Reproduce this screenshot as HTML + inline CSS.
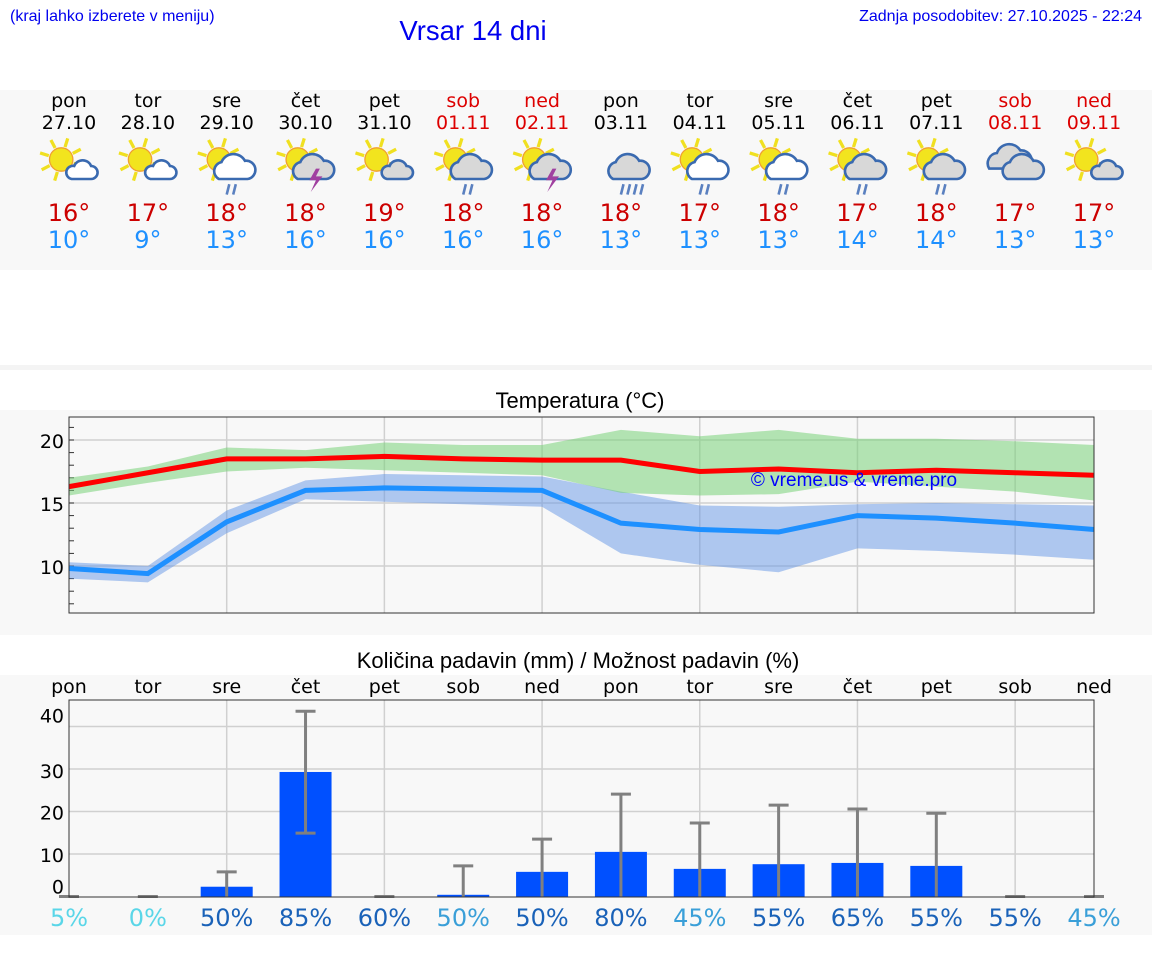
<!DOCTYPE html>
<html><head><meta charset="utf-8"><style>
body{margin:0;width:1152px;height:975px;background:#fff;font-family:"Liberation Sans","DejaVu Sans",sans-serif;overflow:hidden}
svg{position:absolute;left:0;top:0}
</style></head><body>
<svg id="s" width="1152" height="975" font-family="'DejaVu Sans','Liberation Sans',sans-serif">
<rect x="0" y="90" width="1152" height="180" fill="#f8f8f8"/>
<rect x="0" y="365" width="1152" height="5" fill="#f4f4f4"/>
<rect x="0" y="410" width="1152" height="225" fill="#f8f8f8"/>
<rect x="0" y="675" width="1152" height="260" fill="#f8f8f8"/>
<text x="10" y="21" font-size="16" fill="#0000ee" font-family="Liberation Sans,sans-serif">(kraj lahko izberete v meniju)</text>
<text x="473" y="40" font-size="27.5" fill="#0000ee" text-anchor="middle" font-family="Liberation Sans,sans-serif">Vrsar 14 dni</text>
<text x="1142" y="21" font-size="16" fill="#0000ee" text-anchor="end" font-family="Liberation Sans,sans-serif">Zadnja posodobitev: 27.10.2025 - 22:24</text>
<text x="580" y="408" font-size="22" text-anchor="middle" fill="#000" font-family="Liberation Sans,sans-serif">Temperatura (°C)</text>
<text x="578" y="668" font-size="22" text-anchor="middle" fill="#000" font-family="Liberation Sans,sans-serif">Količina padavin (mm) / Možnost padavin (%)</text>
<g id="g"></g>
</svg>
<script>
const dayNames=["pon","tor","sre","čet","pet","sob","ned","pon","tor","sre","čet","pet","sob","ned"];
const dates=["27.10","28.10","29.10","30.10","31.10","01.11","02.11","03.11","04.11","05.11","06.11","07.11","08.11","09.11"];
const weekend=[0,0,0,0,0,1,1,0,0,0,0,0,1,1];
const hiLabels=[16,17,18,18,19,18,18,18,17,18,17,18,17,17];
const loLabels=[10,9,13,16,16,16,16,13,13,13,14,14,13,13];
const icons=["sc","sc","scr","sgt","sg","sgr","sgt","cr","scr","scr","sgr","sgr","cc","sg"];
const tempHigh=[16.3,17.4,18.5,18.5,18.7,18.5,18.4,18.4,17.5,17.7,17.4,17.6,17.4,17.2];
const tempHighMax=[17.0,17.9,19.4,19.2,19.8,19.6,19.6,20.8,20.3,20.8,20.1,20.1,19.9,19.6];
const tempHighMin=[15.6,16.6,17.5,17.8,17.6,17.4,17.2,15.8,15.6,15.7,16.7,16.3,15.9,15.2];
const tempLow=[9.8,9.4,13.5,16.0,16.2,16.1,16.0,13.4,12.9,12.7,14.0,13.8,13.4,12.9];
const tempLowMax=[10.3,10.0,14.4,16.8,17.3,17.2,17.1,15.9,14.8,14.7,14.9,15.0,14.9,14.8];
const tempLowMin=[9.0,8.7,12.6,15.3,15.1,14.9,14.7,11.0,10.1,9.5,11.4,11.2,10.9,10.5];
const tempTicks=[10,15,20];
const precip=[0,0,2.3,29.3,0,0.4,5.8,10.5,6.5,7.6,7.9,7.2,0,0];
const precipMax=[0,0,5.8,43.6,0,7.2,13.5,24.1,17.3,21.5,20.6,19.6,0,0];
const precipMin=[0,0,0,14.9,0,0,0,0,0,0,0,0,0,0];
const precipTicks=[0,10,20,30,40];
const chance=[5,0,50,85,60,50,50,80,45,55,65,55,55,45];
const chanceLevel=[0,0,2,2,2,1,2,2,1,2,2,2,2,1];

const NS="http://www.w3.org/2000/svg",G=document.getElementById('g');
function mk(t,a,p){const e=document.createElementNS(NS,t);for(const k in a)e.setAttribute(k,a[k]);(p||G).appendChild(e);return e;}
const X0=69,X1=1094,N=14;
const xs=i=>X0+i*(X1-X0)/(N-1);
const TY0=417,TY1=613,ty=v=>440+(20-v)*12.6;
const PY0=700,PY1=897,py=v=>896.5-v*4.25;

for(let i=0;i<N;i++){
  const x=xs(i),col=weekend[i]?"#dd0000":"#000";
  let t=mk('text',{x:x,y:107,'font-size':19,'text-anchor':'middle',fill:col});t.textContent=dayNames[i];
  
  t=mk('text',{x:x,y:129,'font-size':19,'text-anchor':'middle',fill:col});t.textContent=dates[i];
  
  t=mk('text',{x:x,y:221,'font-size':24,'text-anchor':'middle',fill:"#cc0000"});t.textContent=hiLabels[i]+"°";
  
  t=mk('text',{x:x,y:248,'font-size':24,'text-anchor':'middle',fill:"#1e90ff"});t.textContent=loLabels[i]+"°";
  
  const g=mk('g',{transform:`translate(${x},166) scale(1.3)`});
  
  const ic=icons[i];
  if(ic[0]=='s'){
    const sx=-6,sy=-5;
    for(let k=0;k<8;k++){const a=k*Math.PI/4+0.3;mk('line',{x1:sx+Math.cos(a)*10,y1:sy+Math.sin(a)*10,x2:sx+Math.cos(a)*17,y2:sy+Math.sin(a)*17,stroke:'#f0e020','stroke-width':2.5},g);}
    mk('circle',{cx:sx,cy:sy,r:9,fill:'#f2e41e',stroke:'#f0a030','stroke-width':1},g);
  }
  const grey=ic.includes('g')||ic=='cr'||ic=='cc';
  const cf=grey?'#d8d8d8':'#fff';
  const big=ic.length>2||ic=='cr'||ic=='cc';
  if(ic=='cc'){mk('path',{d:'M-20,2 a8,8 0 0,1 6,-12 a10,10 0 0,1 18,-2 a8,8 0 0,1 6,14 z',fill:cf,stroke:'#3a6ab0','stroke-width':2},g);}
  const c=big?'M-6,10 a7,7 0 0,1 2,-13 a10,10 0 0,1 18,-1 a7,7 0 0,1 2,14 z':'M2,10 a5,5 0 0,1 2,-10 a7,7 0 0,1 13,0 a5,5 0 0,1 0,10 z';
  mk('path',{d:c,fill:cf,stroke:'#3a6ab0','stroke-width':2},g);
  if(ic.endsWith('r')){for(let k=0;k<(ic=='cr'?4:2);k++)mk('line',{x1:2+k*5,y1:14,x2:0+k*5,y2:22,stroke:'#5a80c0','stroke-width':2},g);}
  if(ic.endsWith('t'))mk('path',{d:'M8,2 l-5,9 h5 l-4,9 l9,-12 h-5 l3,-6 z',fill:'#a040a0'},g);
}

mk('rect',{x:X0,y:TY0,width:X1-X0,height:TY1-TY0,fill:'#f8f8f8',stroke:'none'});
for(let i=2;i<N;i+=2){const l=mk('line',{x1:xs(i),x2:xs(i),y1:TY0,y2:TY1,stroke:'#d0d0d0','stroke-width':1.5});}
tempTicks.forEach(v=>{const l=mk('line',{x1:X0,x2:X1,y1:ty(v),y2:ty(v),stroke:'#d0d0d0','stroke-width':1.5});
  const t=mk('text',{x:64,y:ty(v)+8,'font-size':19,'text-anchor':'end',fill:'#000'});t.textContent=v;});
for(let v=7;v<=21;v++){mk('line',{x1:X0,x2:X0+5,y1:ty(v),y2:ty(v),stroke:'#333','stroke-width':1});}
function band(a,b,fill,name){const p=a.map((v,i)=>xs(i)+','+ty(v)).concat(b.map((v,i)=>xs(i)+','+ty(v)).reverse());const e=mk('polygon',{points:p.join(' '),fill:fill});}
band(tempLowMax,tempLowMin,'rgba(100,150,230,0.5)','low-range-band');
band(tempHighMax,tempHighMin,'rgba(120,210,120,0.55)','high-range-band');
function line(a,col,name){const e=mk('polyline',{points:a.map((v,i)=>xs(i)+','+ty(v)).join(' '),fill:'none',stroke:col,'stroke-width':5});}
line(tempLow,'#1e90ff','low-temp-line');
line(tempHigh,'#ff0000','high-temp-line');
let wm=mk('text',{x:854,y:486,'font-size':19,'text-anchor':'middle',fill:'#0000ff','font-family':'Liberation Sans,sans-serif'});wm.textContent="© vreme.us & vreme.pro";

mk('rect',{x:X0,y:TY0,width:X1-X0,height:TY1-TY0,fill:'none',stroke:'#333','stroke-width':1});

mk('rect',{x:X0,y:PY0,width:X1-X0,height:PY1-PY0,fill:'#f8f8f8'});
for(let i=2;i<N;i+=2){const l=mk('line',{x1:xs(i),x2:xs(i),y1:PY0,y2:PY1,stroke:'#d0d0d0','stroke-width':1.5});}
const labOff={0:-11,10:0,20:0,30:1,40:-12};
precipTicks.forEach(v=>{if(v>0){const l=mk('line',{x1:X0,x2:X1,y1:py(v),y2:py(v),stroke:'#d0d0d0','stroke-width':1.5});}
  const t=mk('text',{x:64,y:py(v)+8+labOff[v],'font-size':19,'text-anchor':'end',fill:'#000'});t.textContent=v;});
const pc=['#5ad6e8','#3a9fd8','#1a62b8'];
for(let i=0;i<N;i++){
  const x=xs(i);
  let t=mk('text',{x:x,y:693,'font-size':19,'text-anchor':'middle',fill:'#000'});t.textContent=dayNames[i];
  if(precip[i]>0){const b=mk('rect',{x:x-26,y:py(precip[i]),width:52,height:py(0)-py(precip[i]),fill:'#0050ff'});}
  const e=mk('g',{stroke:'#808080','stroke-width':3});
  mk('line',{x1:x,x2:x,y1:py(precipMax[i]),y2:py(precipMin[i])},e);
  mk('line',{x1:x-10,x2:x+10,y1:py(precipMax[i]),y2:py(precipMax[i])},e);
  if(precipMin[i]>0)mk('line',{x1:x-10,x2:x+10,y1:py(precipMin[i]),y2:py(precipMin[i])},e);
  t=mk('text',{x:x,y:926,'font-size':24,'text-anchor':'middle',fill:pc[chanceLevel[i]]});t.textContent=chance[i]+"%";
}
mk('rect',{x:X0,y:PY0,width:X1-X0,height:PY1-PY0,fill:'none',stroke:'#333','stroke-width':1});
</script>
</body></html>
